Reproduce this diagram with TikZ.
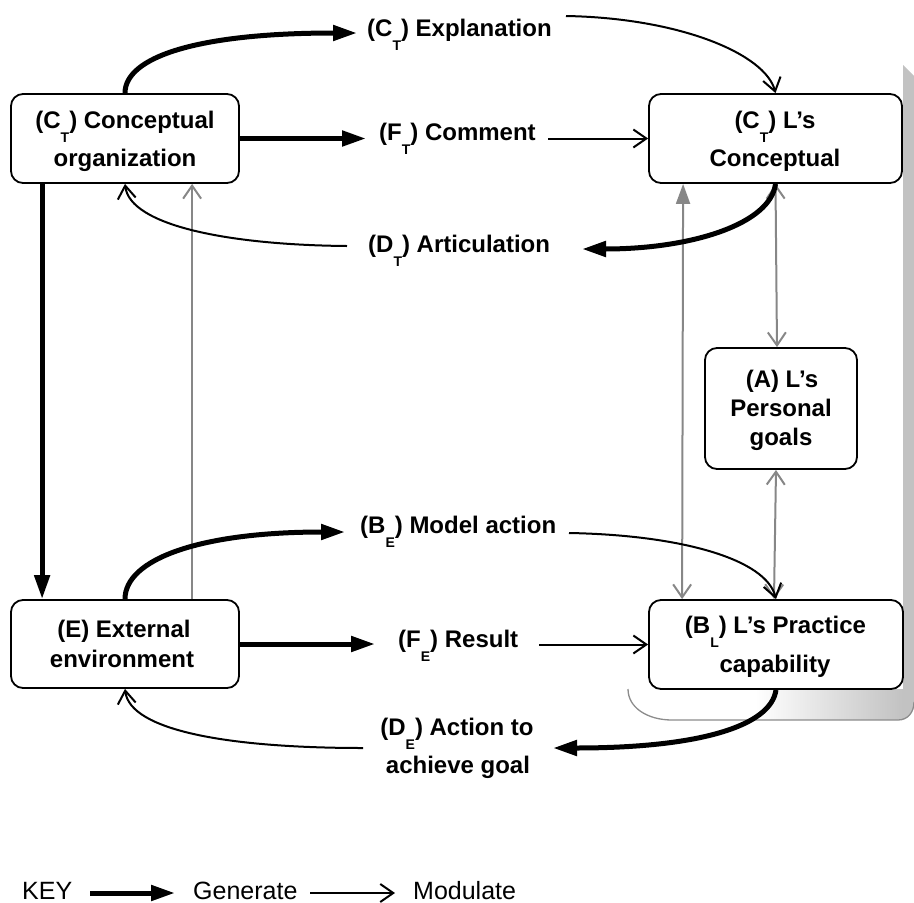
\documentclass[tikz,border=0pt]{standalone}
\usepackage{fontspec}
\setmainfont{Liberation Sans}
\usetikzlibrary{arrows.meta,calc}
\definecolor{panelgray}{gray}{0.76}
\definecolor{edgegray}{gray}{0.55}
\definecolor{linkgray}{gray}{0.53}
% small lowered subscript letter, as in (C_T)
\newcommand\subT[1]{\raisebox{-14pt}{\fontsize{14}{14}\selectfont #1}}
\tikzset{
  barb/.tip={Straight Barb[length=13pt,width=18pt]},
  solidhead/.tip={Triangle[length=20pt,width=14pt]}
}

\begin{document}
\begin{tikzpicture}[x=1pt,y=-1pt,
  box/.style={draw=black,line width=1.8pt,rounded corners=12pt,fill=white,inner sep=0pt},
  txt/.style={font=\fontsize{24}{28}\selectfont\bfseries,inner sep=0pt,anchor=base},
  ltxt/.style={txt,anchor=base west},
  keytxt/.style={font=\fontsize{25}{28}\selectfont,inner sep=0pt,anchor=base west},
  gen/.style={line width=5pt,-{Triangle[length=24pt,width=15pt]}},
  mod/.style={line width=2pt,-{barb}},
  link/.style={draw=linkgray,line width=2pt}
]
\useasboundingbox (0,0) rectangle (914,903);

% shadow panel behind the learner column
\begin{scope}
  \clip (628,689) .. controls (628,708) and (648,720) .. (672,720) -- (898,720)
        .. controls (908,720) and (914,712) .. (914,702) -- (914,76) -- (903,65) -- (903,689) -- cycle;
  \shade[left color=white,right color=panelgray] (755,689) rectangle (903,725);
  \fill[panelgray] (903,60) rectangle (914,725);
\end{scope}
\draw[edgegray,line width=1.3pt] (628,689) .. controls (628,708) and (648,720) .. (672,720) -- (898,720)
      .. controls (908,720) and (914,712) .. (914,702);

% boxes
\node[box,minimum width=228pt,minimum height=89pt] (co) at (125,138.5) {};
\node[box,minimum width=253pt,minimum height=89pt] (lc) at (775.5,138.5) {};
\node[box,minimum width=152pt,minimum height=121pt] (ag) at (781,408.5) {};
\node[box,minimum width=254pt,minimum height=89pt] (bl) at (776,644.5) {};
\node[box,minimum width=228pt,minimum height=88pt] (en) at (125,644) {};

% box texts
\node[txt] (co1) at (125,128) {(C\subT{T}) Conceptual};
\node[txt] (co2) at (125,166) {organization};
\node[txt] (lc1) at (775,128) {(C\subT{T}) L’s};
\node[txt] (lc2) at (775,166) {Conceptual};
\node[txt] (ag1) at (782,387) {(A) L’s};
\node[txt] (ag2) at (781,416) {Personal};
\node[txt] (ag3) at (781,445) {goals};
\node[txt] (bl1) at (775.5,633) {(B\subT{L}) L’s Practice};
\node[txt] (bl2) at (775,672) {capability};
\node[txt] (en1) at (124,637) {(E) External};
\node[txt] (en2) at (122,667) {environment};

% process labels
\node[ltxt] (lexp) at (367,36) {(C\subT{T}) Explanation};
\node[ltxt] (lcom) at (379,140) {(F\subT{T}) Comment};
\node[ltxt] (lart) at (368,252) {(D\subT{T}) Articulation};
\node[ltxt] (lmod) at (360,533) {(B\subT{E}) Model action};
\node[ltxt] (lres) at (398,647) {(F\subT{E}) Result};
\node[txt] (lact1) at (457,735) {(D\subT{E}) Action to};
\node[txt] (lact2) at (458,773) {achieve goal};

% label ends
\coordinate (expTip) at (357,33);
\coordinate (expOut) at (566,16);
\coordinate (comTip) at (366,138.5);
\coordinate (comOut) at (548,138.5);
\coordinate (artTip) at (582,249);
\coordinate (artOut) at (347,246);
\coordinate (modTip) at (345,532);
\coordinate (modOut) at (569,533);
\coordinate (resTip) at (375,644);
\coordinate (resOut) at (539,644.5);
\coordinate (actTip) at (553,748);
\coordinate (actOut) at (363,748);

% grey links
\draw[link,-{barb}] ($(en.north west)+(182,0)$) -- ($(co.south west)+(182,0)$);
\draw[link,{barb}-{solidhead}] ($(bl.north west)+(34,0)$) -- ($(lc.south west)+(35,0)$);
\draw[link,{barb}-{barb}] (lc.south) -- ($(ag.north)+(-4,0)$);
\draw[link,{barb}-{barb}] ($(ag.south)+(-5,0)$) -- ($(bl.north)+(-2,0)$);

% modulate links
\draw[mod] (expOut) .. controls +(114,2) and +(-10,-39) .. (lc.north);
\draw[mod] (comOut) -- (lc.west);
\draw[mod] (artOut) .. controls +(-117,-1) and +(5,42) .. (co.south);
\draw[mod] (modOut) .. controls +(112,2) and +(-10,-40) .. (bl.north);
\draw[mod] (resOut) -- (bl.west);
\draw[mod] (actOut) .. controls +(-133,0) and +(5,42) .. (en.south);

% generate links
\draw[gen] (co.north) .. controls +(0,-36) and +(-160,0) .. (expTip);
\draw[gen] (co.east) -- (comTip);
\draw[gen] ($(co.south west)+(32,0)$) -- ($(en.north west)+(32,0)$);
\draw[gen] (lc.south) .. controls +(-5,40) and +(110,0) .. (artTip);
\draw[gen] (en.north) .. controls +(0,-40) and +(-145,0) .. (modTip);
\draw[gen] (en.east) -- (resTip);
\draw[gen] (bl.south) .. controls +(-5,36) and +(147,0) .. (actTip);

% key
\node[keytxt] (key) at (22,899) {KEY};
\coordinate (k1a) at (90,893);
\coordinate (k1b) at (175,893);
\node[keytxt] (kgen) at (193,899) {Generate};
\coordinate (k2a) at (310,893);
\coordinate (k2b) at (395,893);
\node[keytxt] (kmod) at (413,899) {Modulate};
\draw[gen] (k1a) -- (k1b);
\draw[mod] (k2a) -- (k2b);
\end{tikzpicture}
\end{document}
